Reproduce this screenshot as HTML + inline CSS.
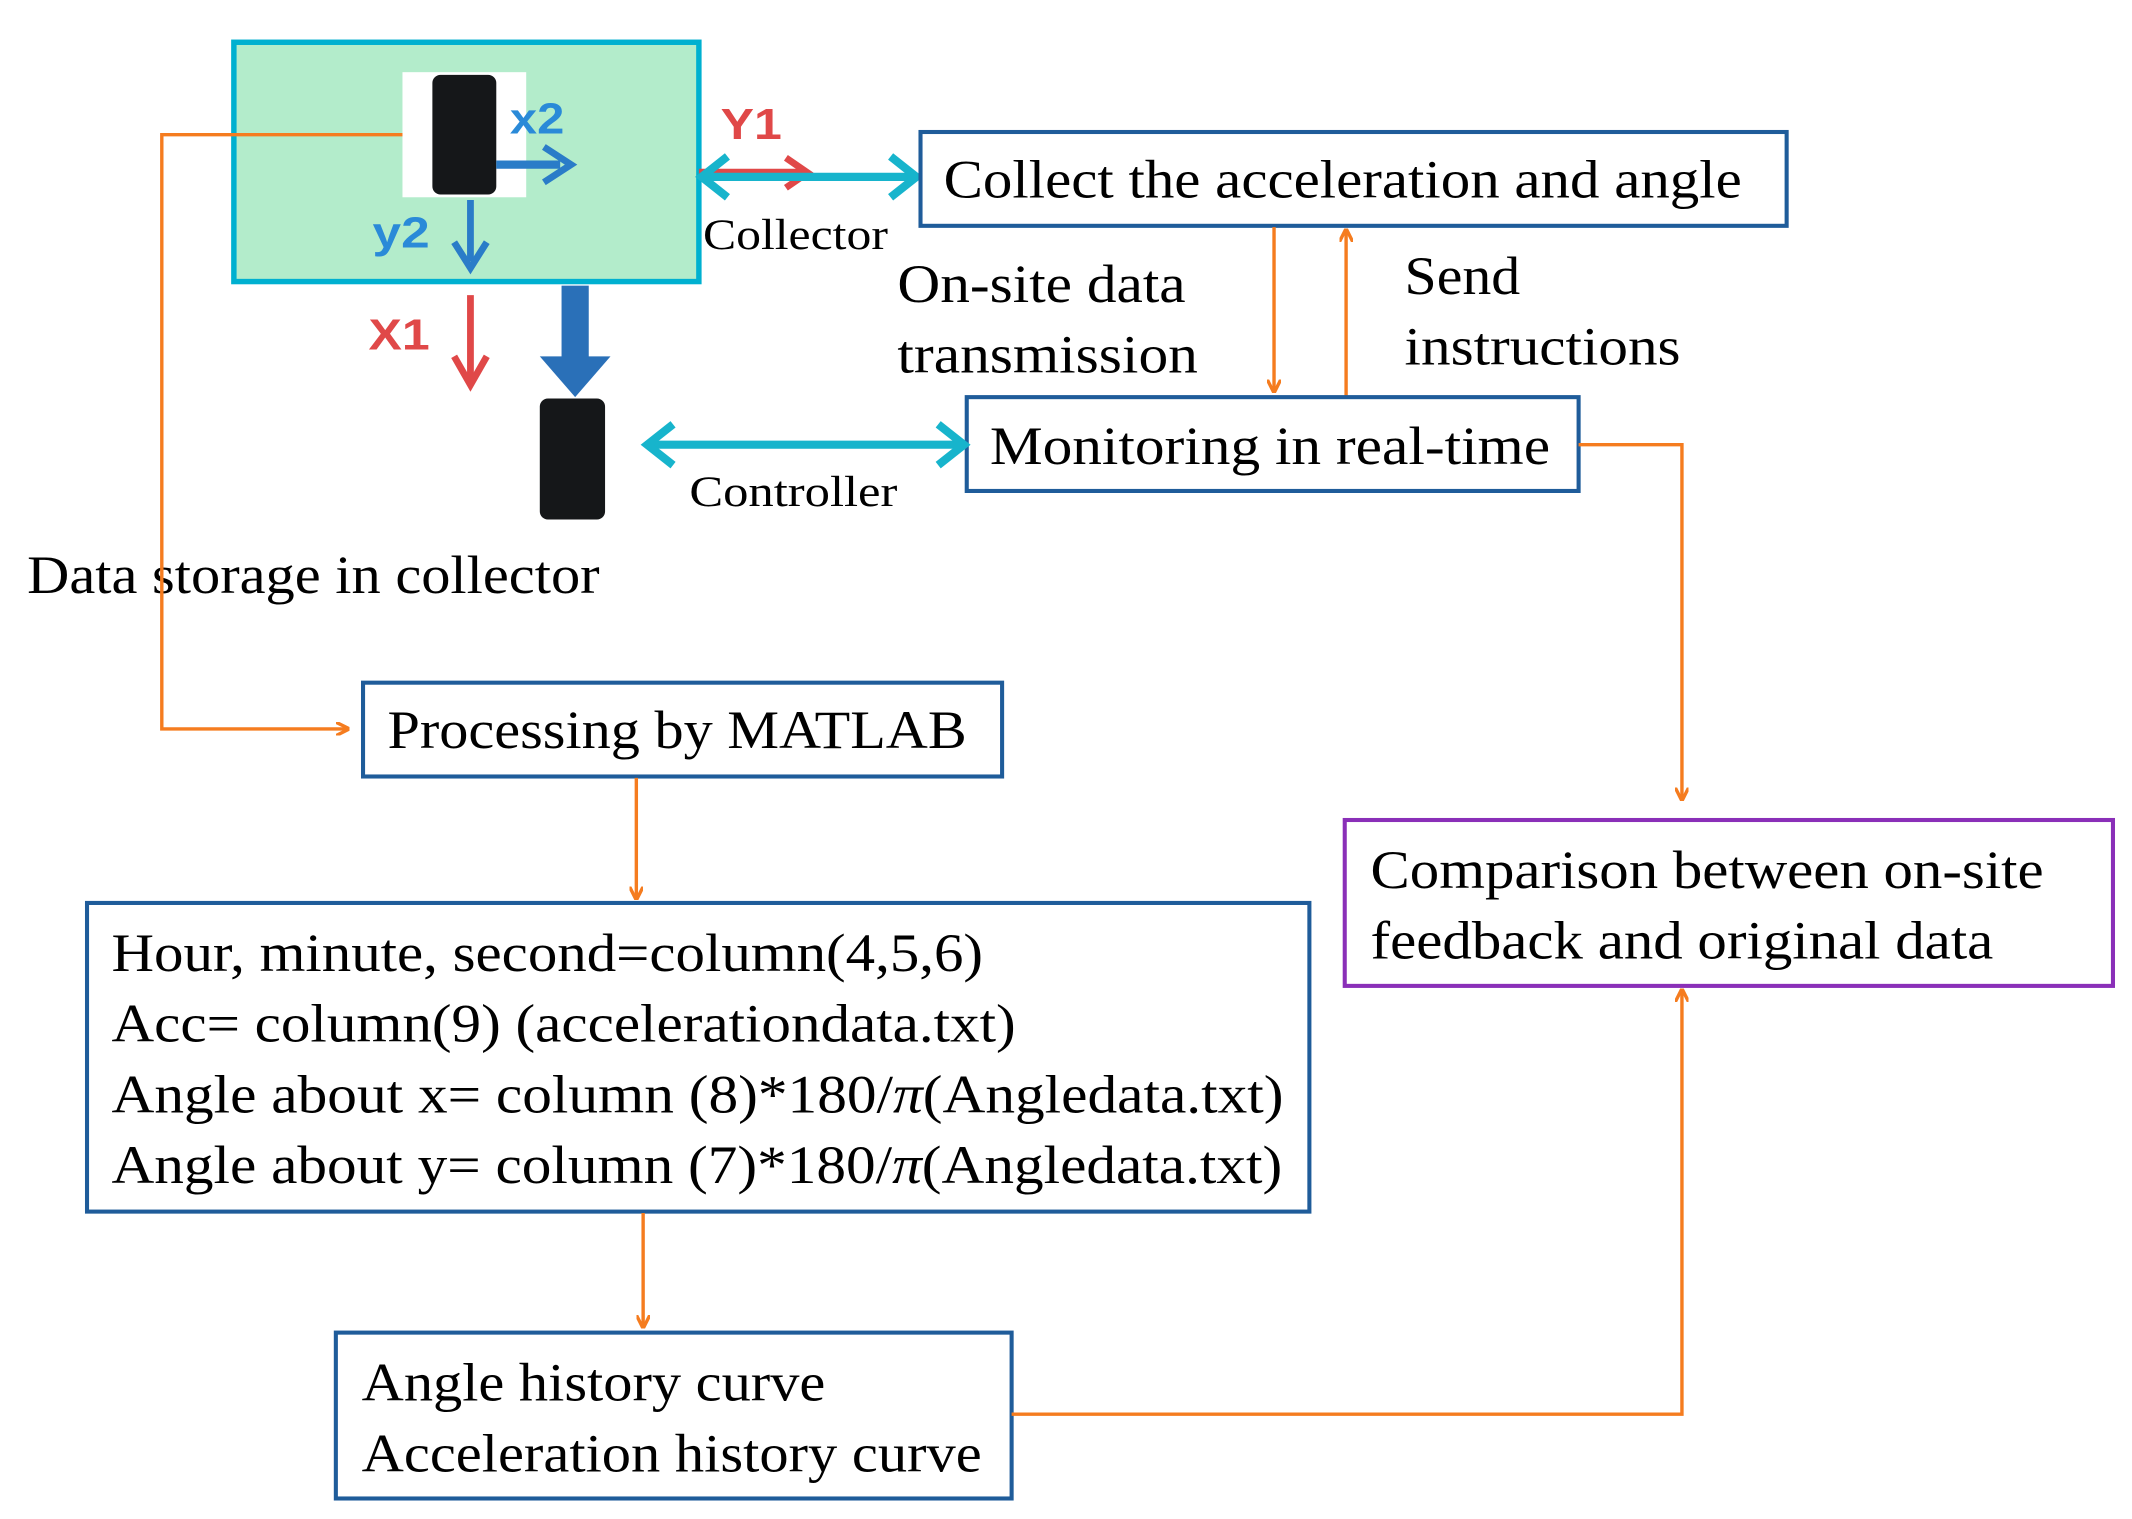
<!DOCTYPE html>
<html><head><meta charset="utf-8"><style>
html,body{margin:0;padding:0;background:#fff;}
svg{display:block;}
text{font-family:"Liberation Serif",serif;fill:#000;}
.s{font-family:"Liberation Sans",sans-serif;font-weight:bold;}
</style></head><body>
<svg width="2132" height="1519" viewBox="0 0 1568 1117" xmlns="http://www.w3.org/2000/svg">
<defs>
<marker id="o" markerWidth="10" markerHeight="10" refX="9" refY="5" orient="auto" markerUnits="userSpaceOnUse"><path d="M0,0 L10,5 L0,10" fill="none" stroke="#f57c1f" stroke-width="2.5"/></marker>
</defs>
<rect x="172" y="31" width="342" height="176" fill="#b3eccb" stroke="#00b0d0" stroke-width="4"/>
<rect x="296" y="53" width="91" height="92" fill="#fff"/>
<rect x="318" y="55" width="47" height="88" rx="6" fill="#151719"/>
<text x="375" y="98" class="s" font-size="32" textLength="40" lengthAdjust="spacingAndGlyphs" style="fill:#2a8ad8">x2</text>
<line x1="365" y1="121" x2="412" y2="121" stroke="#2a7cc8" stroke-width="6"/>
<path d="M400,108 L420,121 L400,134" fill="none" stroke="#2a7cc8" stroke-width="5"/>
<text x="274" y="182" class="s" font-size="32" textLength="42" lengthAdjust="spacingAndGlyphs" style="fill:#2a8ad8">y2</text>
<line x1="346" y1="147" x2="346" y2="192" stroke="#2a7cc8" stroke-width="5"/>
<path d="M334,178 L346,197 L358,178" fill="none" stroke="#2a7cc8" stroke-width="5"/>
<text x="271" y="257" class="s" font-size="32" textLength="45" lengthAdjust="spacingAndGlyphs" style="fill:#e04848">X1</text>
<line x1="346" y1="217" x2="346" y2="280" stroke="#e04848" stroke-width="5"/>
<path d="M334,262 L346,283 L358,262" fill="none" stroke="#e04848" stroke-width="5"/>
<rect x="413" y="210" width="20" height="55" fill="#2a70b8"/>
<path d="M397,262 L449,262 L423,292 Z" fill="#2a70b8"/>
<rect x="397" y="293" width="48" height="89" rx="6" fill="#151719"/>
<text x="530" y="102" class="s" font-size="32" textLength="45" lengthAdjust="spacingAndGlyphs" style="fill:#e04848">Y1</text>
<line x1="514" y1="127" x2="590" y2="127" stroke="#e04848" stroke-width="6"/>
<path d="M578,116 L594,127 L578,138" fill="none" stroke="#e04848" stroke-width="5"/>
<line x1="518" y1="130" x2="672" y2="130" stroke="#17b4cc" stroke-width="6"/>
<path d="M535,115 L516,130 L535,145 M655,115 L674,130 L655,145" fill="none" stroke="#17b4cc" stroke-width="6"/>
<text x="517" y="183" font-size="32" textLength="136" lengthAdjust="spacingAndGlyphs">Collector</text>
<rect x="677" y="97" width="637" height="69" fill="#fff" stroke="#1f5c9a" stroke-width="3"/>
<text x="694" y="145" font-size="40" textLength="587" lengthAdjust="spacingAndGlyphs">Collect the acceleration and angle</text>
<text x="660" y="222" font-size="40" textLength="212" lengthAdjust="spacingAndGlyphs">On-site data</text>
<text x="660" y="274" font-size="40" textLength="221" lengthAdjust="spacingAndGlyphs">transmission</text>
<line x1="937" y1="167" x2="937" y2="288" stroke="#f57c1f" stroke-width="2.5" marker-end="url(#o)"/>
<line x1="990" y1="292" x2="990" y2="169" stroke="#f57c1f" stroke-width="2.5" marker-end="url(#o)"/>
<text x="1033" y="216" font-size="40" textLength="85" lengthAdjust="spacingAndGlyphs">Send</text>
<text x="1033" y="268" font-size="40" textLength="203" lengthAdjust="spacingAndGlyphs">instructions</text>
<rect x="711" y="292" width="450" height="69" fill="#fff" stroke="#1f5c9a" stroke-width="3"/>
<text x="728" y="341" font-size="40" textLength="412" lengthAdjust="spacingAndGlyphs">Monitoring in real-time</text>
<line x1="478" y1="327" x2="707" y2="327" stroke="#17b4cc" stroke-width="6"/>
<path d="M495,312 L476,327 L495,342 M690,312 L709,327 L690,342" fill="none" stroke="#17b4cc" stroke-width="6"/>
<text x="507" y="372" font-size="32" textLength="153" lengthAdjust="spacingAndGlyphs">Controller</text>
<text x="20" y="436" font-size="40" textLength="421" lengthAdjust="spacingAndGlyphs">Data storage in collector</text>
<polyline points="296,99 119,99 119,536 256,536" fill="none" stroke="#f57c1f" stroke-width="2.5" marker-end="url(#o)"/>
<rect x="267" y="502" width="470" height="69" fill="#fff" stroke="#1f5c9a" stroke-width="3"/>
<text x="285" y="550" font-size="40" textLength="426" lengthAdjust="spacingAndGlyphs">Processing by MATLAB</text>
<line x1="468" y1="572" x2="468" y2="661" stroke="#f57c1f" stroke-width="2.5" marker-end="url(#o)"/>
<rect x="64" y="664" width="899" height="227" fill="#fff" stroke="#1f5c9a" stroke-width="3"/>
<text x="82" y="714" font-size="40" textLength="641" lengthAdjust="spacingAndGlyphs">Hour, minute, second=column(4,5,6)</text>
<text x="82" y="766" font-size="40" textLength="665" lengthAdjust="spacingAndGlyphs">Acc= column(9) (accelerationdata.txt)</text>
<text x="82" y="818" font-size="40" textLength="862" lengthAdjust="spacingAndGlyphs">Angle about x= column (8)*180/<tspan font-style="italic">π</tspan>(Angledata.txt)</text>
<text x="82" y="870" font-size="40" textLength="861" lengthAdjust="spacingAndGlyphs">Angle about y= column (7)*180/<tspan font-style="italic">π</tspan>(Angledata.txt)</text>
<line x1="473" y1="892" x2="473" y2="976" stroke="#f57c1f" stroke-width="2.5" marker-end="url(#o)"/>
<rect x="247" y="980" width="497" height="122" fill="#fff" stroke="#1f5c9a" stroke-width="3"/>
<text x="266" y="1030" font-size="40" textLength="341" lengthAdjust="spacingAndGlyphs">Angle history curve</text>
<text x="266" y="1082" font-size="40" textLength="456" lengthAdjust="spacingAndGlyphs">Acceleration history curve</text>
<polyline points="744,1040 1237,1040 1237,728" fill="none" stroke="#f57c1f" stroke-width="2.5" marker-end="url(#o)"/>
<polyline points="1161,327 1237,327 1237,588" fill="none" stroke="#f57c1f" stroke-width="2.5" marker-end="url(#o)"/>
<rect x="989" y="603" width="565" height="122" fill="#fff" stroke="#8a2fb8" stroke-width="3"/>
<text x="1008" y="653" font-size="40" textLength="495" lengthAdjust="spacingAndGlyphs">Comparison between on-site</text>
<text x="1008" y="705" font-size="40" textLength="458" lengthAdjust="spacingAndGlyphs">feedback and original data</text>
</svg>
</body></html>
